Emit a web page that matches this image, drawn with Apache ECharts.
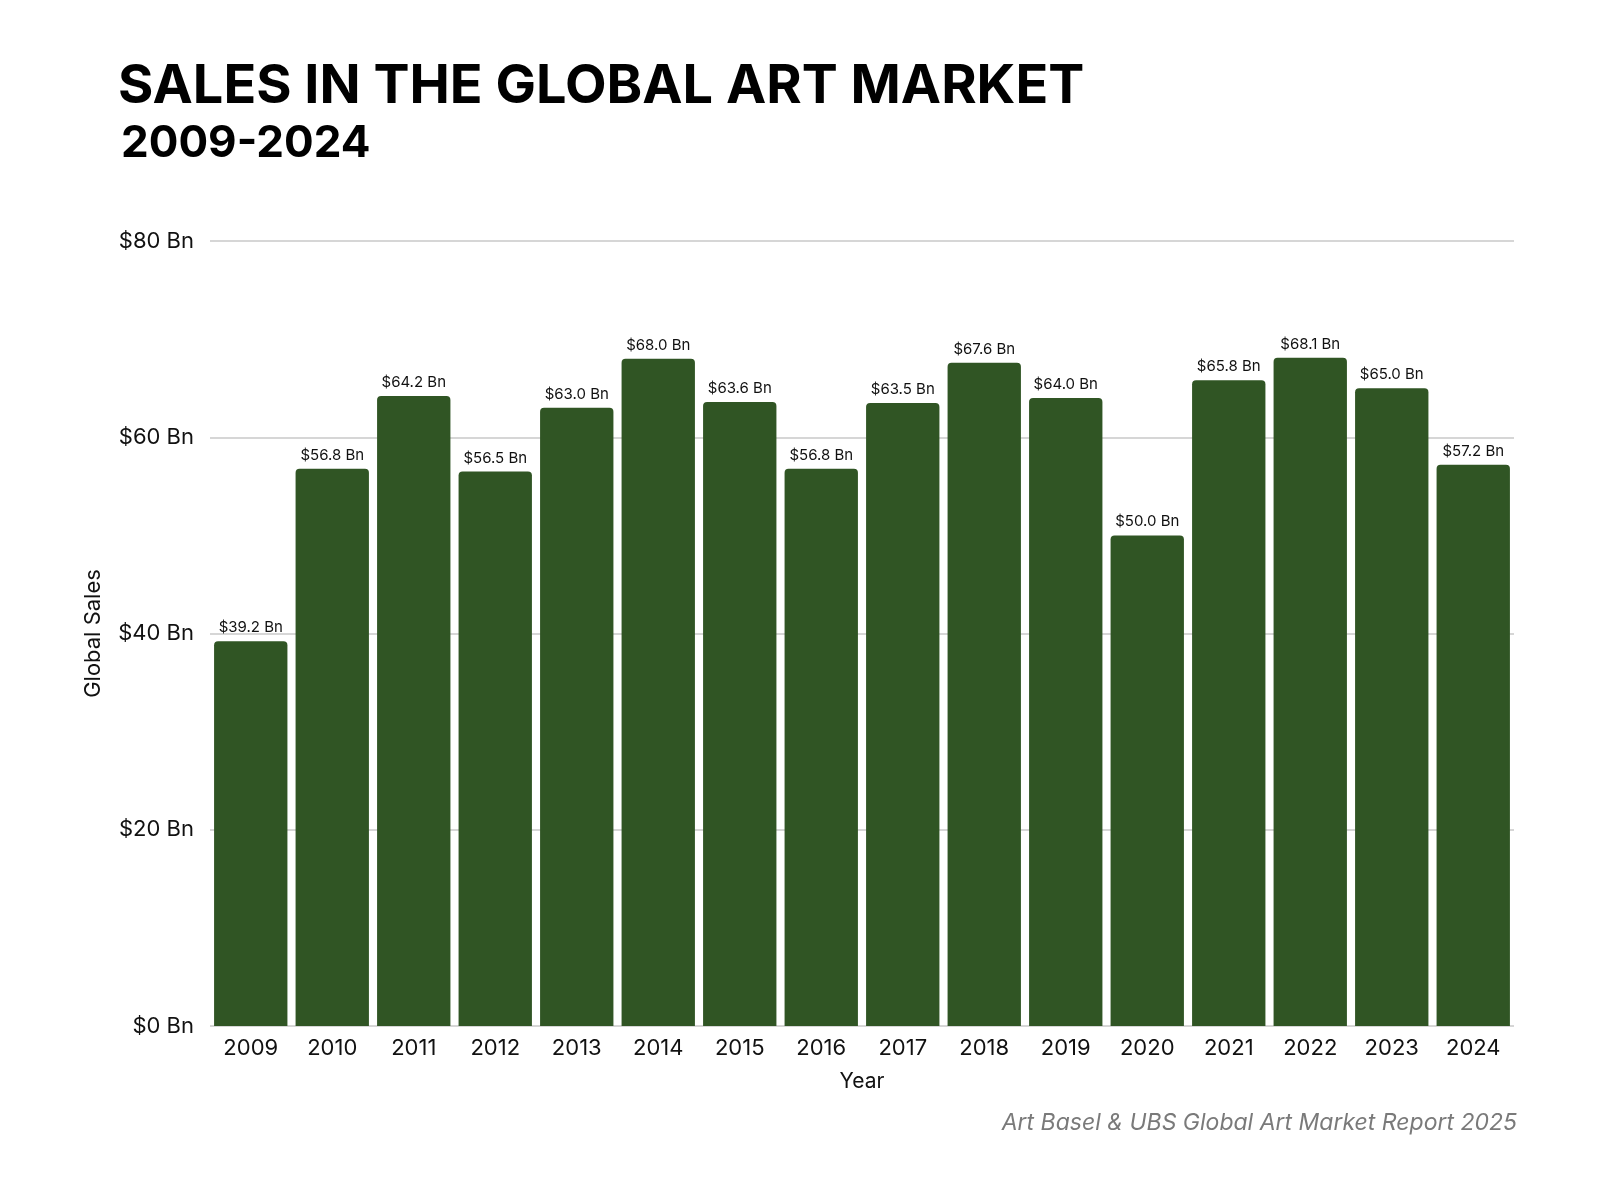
<!DOCTYPE html>
<html>
<head>
<meta charset="utf-8">
<title>Sales in the Global Art Market</title>
<script src="https://cdn.jsdelivr.net/npm/echarts@6/dist/echarts.min.js"></script>
<style>
  html, body { margin: 0; padding: 0; background: #fff; }
  #main { width: 1622px; height: 1190px; }
</style>
</head>
<body>
<div id="main"></div>
<script>
// 数据
var years = ['2009', '2010', '2011', '2012', '2013', '2014', '2015', '2016',
             '2017', '2018', '2019', '2020', '2021', '2022', '2023', '2024'];
var sales = [39.2, 56.8, 64.2, 56.5, 63.0, 68.0, 63.6, 56.8,
             63.5, 67.6, 64.0, 50.0, 65.8, 68.1, 65.0, 57.2];
var yTicks = [0, 20, 40, 60, 80];

var font = 'Inter';
var chart = echarts.init(document.getElementById('main'));

var option = {
    backgroundColor: '#fff',
    title: [
        {
            text: 'SALES IN THE GLOBAL ART MARKET',
            left: 113,
            top: 55,
            textStyle: { fontFamily: font, fontWeight: 'bold', fontSize: 54, color: '#000' }
        },
        {
            text: '2009-2024',
            left: 116,
            top: 117,
            textStyle: { fontFamily: font, fontWeight: 'bold', fontSize: 44, color: '#000' }
        },
        {
            text: 'Art Basel & UBS Global Art Market Report 2025',
            right: 100,
            top: 1107,
            textStyle: { fontFamily: font, fontStyle: 'italic', fontWeight: 'normal', fontSize: 23, color: '#7a7a7a' }
        }
    ],
    grid: {
        left: 210,
        right: 108,
        top: 241,
        bottom: 164
    },
    xAxis: {
        type: 'category',
        data: years,
        name: 'Year',
        nameLocation: 'middle',
        nameGap: 45,
        nameTextStyle: { fontFamily: font, fontSize: 21, color: '#111' },
        axisLine: { show: false },
        axisTick: { show: false },
        axisLabel: { fontFamily: font, fontSize: 22, color: '#111', margin: 11 }
    },
    yAxis: {
        type: 'value',
        min: yTicks[0],
        max: yTicks[yTicks.length - 1],
        interval: 20,
        name: 'Global Sales',
        nameLocation: 'middle',
        nameGap: 106,
        nameTextStyle: { fontFamily: font, fontSize: 22, color: '#111' },
        axisLine: { show: false },
        axisTick: { show: false },
        splitLine: { lineStyle: { color: '#c8c8c8', width: 1.5 } },
        axisLabel: {
            fontFamily: font,
            fontSize: 22,
            color: '#111',
            margin: 16,
            formatter: function (v) { return '$' + v + ' Bn'; }
        }
    },
    series: [
        {
            type: 'bar',
            data: sales,
            barCategoryGap: '10%',
            itemStyle: { color: '#305524', borderRadius: [4, 4, 0, 0] },
            label: {
                show: true,
                position: 'top',
                distance: 6,
                fontFamily: font,
                fontSize: 15,
                color: '#111',
                formatter: function (p) { return '$' + p.value.toFixed(1) + ' Bn'; }
            }
        }
    ]
};
option && chart.setOption(option);
</script>
</body>
</html>
